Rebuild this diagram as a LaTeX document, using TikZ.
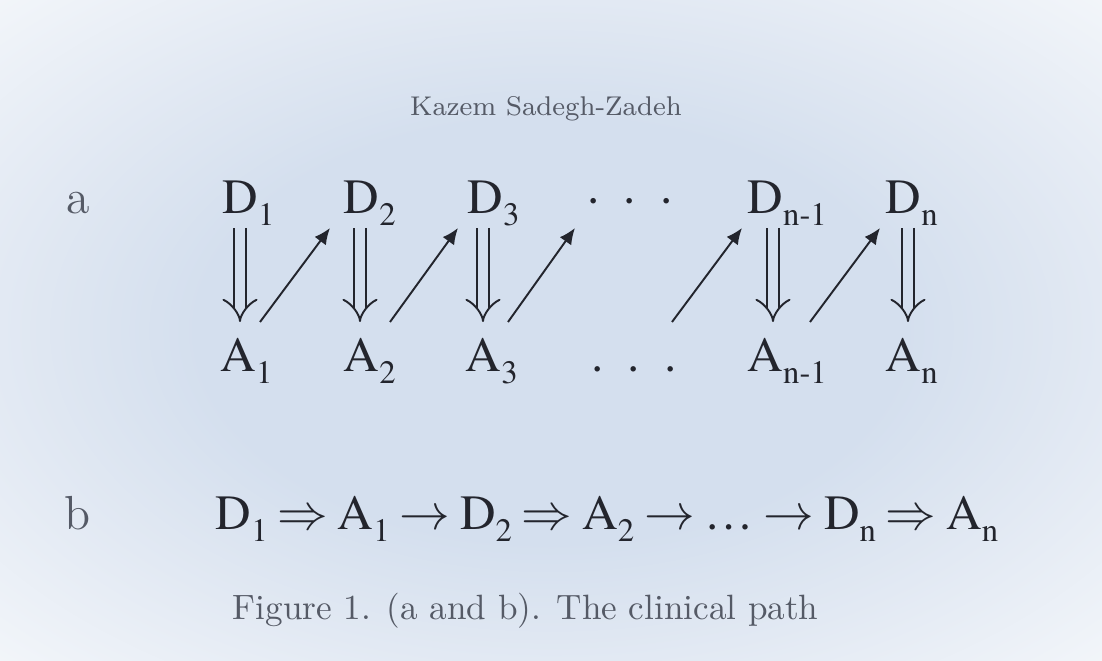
\documentclass[tikz,border=0pt]{standalone}
\usepackage{fontspec}
\usetikzlibrary{arrows.meta}
\newfontfamily\tms{texgyretermes-regular.otf}
\definecolor{ink}{RGB}{35,37,45}
\definecolor{inkgray}{RGB}{85,90,102}
\definecolor{bgmid}{RGB}{212,223,238}
\definecolor{bgedge}{RGB}{226,233,243}
\definecolor{bgcorner}{RGB}{243,246,250}
\pgfdeclareradialshading{vignette}{\pgfpoint{0bp}{0bp}}{%
  color(0bp)=(bgmid); color(16bp)=(bgmid); color(25bp)=(bgedge);
  color(36bp)=(bgcorner); color(50bp)=(bgcorner)}
\newcommand{\gp}{\hspace{2.8pt}}
\newcommand{\lowsub}[1]{\raisebox{-0.24em}{\fontsize{9.3}{10}\selectfont#1}}

\begin{document}
\begin{tikzpicture}[x=0.01cm, y=-0.01cm,
  sym/.style={anchor=base west, inner sep=0pt, text=ink,
    font=\tms\fontsize{14}{16}\selectfont},
  rowlbl/.style={anchor=base west, inner sep=0pt, text=inkgray,
    font=\fontsize{13.6}{16}\selectfont},
  lead/.style={-{Latex[length=4.6pt, width=4pt]}, line width=0.55pt, draw=ink},
  dimp/.style={-Implies, double=bgmid, double distance=3pt,
    line width=0.55pt, draw=ink}
]
\useasboundingbox (0,0) rectangle (1102,661);
\shade[shading=vignette] (0,0) rectangle (1102,661);

\node[anchor=base, inner sep=0pt, text=inkgray,
      font=\fontsize{7.7}{9}\selectfont] (auth) at (546,116)
  {Kazem Sadegh-Zadeh};

% row labels
\node[rowlbl] (la) at (66,214) {a};
\node[rowlbl] (lb) at (64,530) {b};

% diagram a
\foreach \n/\x/\s in {D1/222/1, D2/343/2, D3/467/3, Dn1/747/n-1, Dn/885/n}
  \node[sym] (\n) at (\x,214) {D\lowsub{\s}};
\foreach \n/\x/\s in {A1/220/1, A2/343/2, A3/465/3, An1/747/n-1, An/885/n}
  \node[sym] (\n) at (\x,372) {A\lowsub{\s}};
\node[sym] (dD) at (587,214) {·\hspace{6.8pt}·\hspace{6.8pt}·};
\node[sym] (dA) at (591,372) {.\hspace{6.8pt}.\hspace{6.8pt}.};

\foreach \d/\a/\dx/\ax in {D1/A1/18/20, D2/A2/17/17, D3/A3/16/18,
    Dn1/An1/26/26, Dn/An/23/23}
  \draw[dimp] ([shift={(\dx,14)}]\d.base west) --
    ([shift={(\ax,-50)}]\a.base west);
\foreach \a/\ax/\d/\dx in {A1/40/D2/-13, A2/47/D3/-9, A3/43/dD/-12,
    dA/81/Dn1/-5, An1/63/Dn/-5}
  \draw[lead] ([shift={(\ax,-50)}]\a.base west) --
    ([shift={(\dx,14)}]\d.base west);

% diagram b
\node[sym] (path) at (215,530)
  {D\lowsub{1}\gp$\Rightarrow$\gp A\lowsub{1}\gp$\rightarrow$\gp
   D\lowsub{2}\gp$\Rightarrow$\gp A\lowsub{2}\gp$\rightarrow$\gp
   \dots\gp$\rightarrow$\gp D\lowsub{n}\gp$\Rightarrow$\gp
   A\lowsub{n}};

\node[anchor=base west, inner sep=0pt, text=inkgray,
      font=\fontsize{10}{12}\selectfont] (cap) at (232,620)
  {Figure 1. (a and b). The clinical path};
\end{tikzpicture}
\end{document}
